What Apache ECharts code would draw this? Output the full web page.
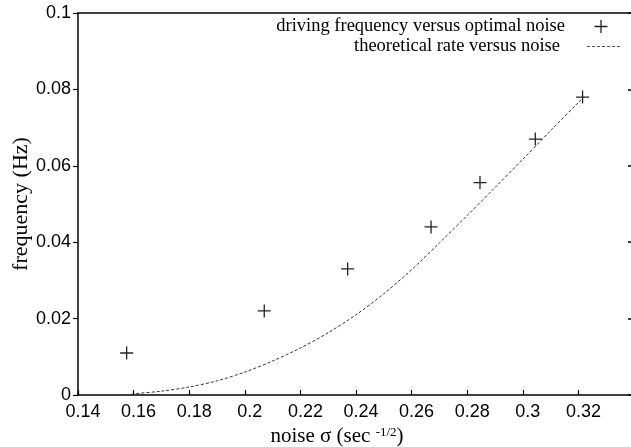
<!DOCTYPE html>
<html>
<head>
<meta charset="utf-8">
<script src="https://cdn.jsdelivr.net/npm/echarts@6/dist/echarts.min.js"></script>
<style>
  html, body { margin: 0; padding: 0; background: #fff; }
  #chart { width: 631px; height: 447px; }
</style>
</head>
<body>
<div id="chart"></div>
<script>
// measured points: driving frequency vs optimal noise
const noiseOpt = [0.1575, 0.207, 0.237, 0.267, 0.2846, 0.3045, 0.3215]
const freqDrive = [0.011, 0.022, 0.033, 0.044, 0.0556, 0.067, 0.078]
// theoretical rate curve
const theoryNoise = [0.1575, 0.16, 0.17, 0.18, 0.19, 0.20, 0.21, 0.22, 0.23, 0.24, 0.25, 0.26, 0.27, 0.28, 0.29, 0.30, 0.31, 0.32, 0.322]
const theoryRate = [0, 0.0003, 0.001, 0.0021, 0.0037, 0.006, 0.0089, 0.0123, 0.0163, 0.021, 0.0265, 0.0328, 0.0398, 0.047, 0.0543, 0.0617, 0.0692, 0.0766, 0.078]

const nameDrive = 'driving frequency versus optimal noise'
const nameTheory = 'theoretical rate versus noise'

const serif = 'Liberation Serif'
const sans = 'Liberation Sans'
const plus = 'path://M0,5.85H13V7.15H0ZM5.85,0H7.15V13H5.85Z'
// dashed sample for the legend (33 units wide)
const dashIcon = 'path://M0,0H3V1H0ZM5,0H8V1H5ZM10,0H13V1H10ZM15,0H18V1H15ZM20,0H23V1H20ZM25,0H28V1H25ZM30,0H33V1H30Z'

let myChart = echarts.init(document.getElementById('chart'))

let driveData = []
for (let i = 0; i < noiseOpt.length; i++) {
  driveData.push([noiseOpt[i], freqDrive[i]])
}
let theoryData = []
for (let i = 0; i < theoryNoise.length; i++) {
  theoryData.push([theoryNoise[i], theoryRate[i]])
}

myChart.setOption({
  animation: false,
  grid: {
    left: 78,
    right: -3,
    top: 13,
    bottom: 52,
    outerBoundsMode: 'none'
  },
  legend: [
    {
      data: [nameDrive],
      orient: 'vertical',
      align: 'right',
      right: 18.5,
      top: 12,
      itemWidth: 33,
      itemHeight: 13,
      textStyle: { fontFamily: serif, fontSize: 18.5, color: '#000', padding: [0, 14.5, 0, 0] }
    },
    {
      data: [{ name: nameTheory, icon: dashIcon }],
      orient: 'vertical',
      align: 'right',
      right: 6,
      top: 32,
      itemWidth: 33,
      itemHeight: 1,
      itemStyle: { color: '#555' },
      textStyle: { fontFamily: serif, fontSize: 18.5, color: '#000', padding: [0, 22, 0, 0] }
    }
  ],
  xAxis: [
    {
      type: 'value',
      min: 0.14,
      max: 0.34,
      interval: 0.02,
      name: 'noise σ (sec {sup|-1/2})',
      nameLocation: 'middle',
      nameGap: 29,
      nameTextStyle: {
        fontFamily: serif,
        fontSize: 21,
        color: '#000',
        padding: [0, 38, 0, 0],
        rich: {
          sup: { fontFamily: serif, fontSize: 13, color: '#000', padding: [0, 0, 9, 0] }
        }
      },
      axisLine: { show: true, lineStyle: { color: '#000', width: 1.5 } },
      axisTick: { show: true, inside: true, length: 5, lineStyle: { color: '#000', width: 1.2 } },
      axisLabel: {
        showMaxLabel: false,
        fontFamily: sans,
        fontSize: 18,
        color: '#000',
        margin: 8,
        padding: [0, 0, 0, 10]
      },
      splitLine: { show: false }
    },
    {
      type: 'value',
      position: 'top',
      min: 0.14,
      max: 0.34,
      axisLine: { show: true, onZero: false, lineStyle: { color: '#000', width: 1.5 } },
      axisTick: { show: false },
      axisLabel: { show: false },
      splitLine: { show: false }
    }
  ],
  yAxis: [
    {
      type: 'value',
      min: 0,
      max: 0.1,
      interval: 0.02,
      name: 'frequency (Hz)',
      nameLocation: 'middle',
      nameRotate: 90,
      nameGap: 46,
      nameMoveOverlap: false,
      nameTextStyle: { fontFamily: serif, fontSize: 22, color: '#000' },
      axisLine: { show: true, lineStyle: { color: '#000', width: 1.5 } },
      axisTick: { show: true, inside: false, length: 5, lineStyle: { color: '#000', width: 1.2 } },
      axisLabel: { fontFamily: sans, fontSize: 18, color: '#000', margin: 7 },
      splitLine: { show: false }
    },
    {
      type: 'value',
      position: 'right',
      min: 0,
      max: 0.1,
      interval: 0.02,
      axisLine: { show: true, onZero: false, lineStyle: { color: '#000', width: 1.5 } },
      axisTick: { show: true, inside: true, length: 6, lineStyle: { color: '#000', width: 1.5 } },
      axisLabel: { show: false },
      splitLine: { show: false }
    }
  ],
  series: [
    {
      name: nameDrive,
      type: 'scatter',
      data: driveData,
      symbol: plus,
      symbolSize: 13,
      symbolKeepAspect: true,
      itemStyle: { color: '#222', opacity: 1 },
      z: 3
    },
    {
      name: nameTheory,
      type: 'line',
      data: theoryData,
      smooth: 0.3,
      symbol: 'none',
      showSymbol: false,
      lineStyle: { color: '#333', width: 1, type: [3, 2] },
      itemStyle: { color: '#333' },
      z: 2
    }
  ]
});
</script>
</body>
</html>
